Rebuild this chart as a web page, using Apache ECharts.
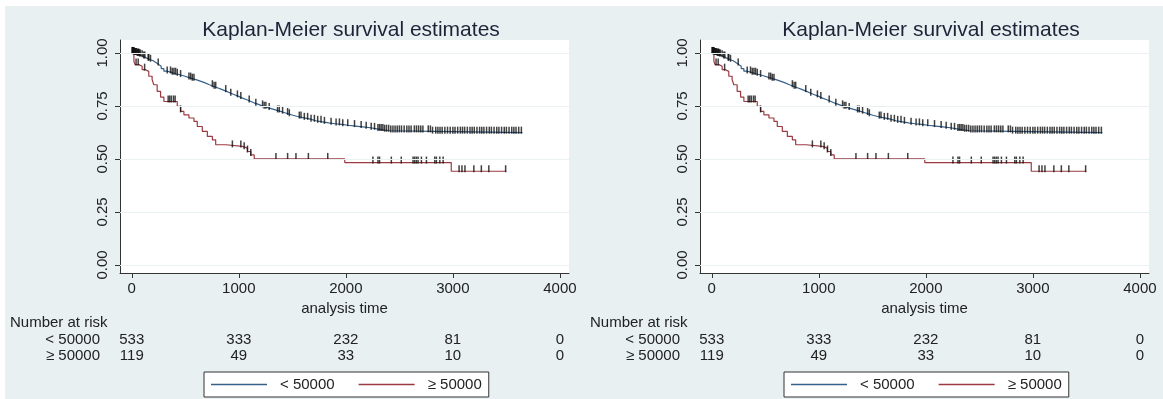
<!DOCTYPE html>
<html>
<head>
<meta charset="utf-8">
<script src="https://cdn.jsdelivr.net/npm/echarts@6/dist/echarts.min.js"></script>
<style>
    html, body { margin: 0; background: #fff; }
    #graph { position: absolute; left: 5px; top: 6px; width: 1158px; height: 393px; }
</style>
</head>
<body>
<div id="graph"></div>
<script>
"use strict"

// number at risk table
const riskTimes = [0, 1000, 2000, 3000, 4000];
const riskLow = [533, 333, 232, 81, 0];
const riskHigh = [119, 49, 33, 10, 0];
const yTicks = [0, 0.25, 0.5, 0.75, 1];

// KM steps [time, survival]
const kmLow = [
    [0, 1.0], [10, 0.998], [25, 0.995], [45, 0.992], [70, 0.988], [90, 0.984], [110, 0.978], [130, 0.973],
    [150, 0.968], [175, 0.963], [200, 0.955], [225, 0.946], [250, 0.937], [275, 0.926], [300, 0.914],
    [330, 0.908], [370, 0.902], [410, 0.897], [450, 0.891], [490, 0.885], [530, 0.879], [565, 0.874],
    [600, 0.867], [640, 0.860], [680, 0.851], [720, 0.843], [760, 0.836], [800, 0.828], [840, 0.820],
    [880, 0.811], [920, 0.803], [960, 0.795], [1000, 0.787], [1035, 0.779], [1075, 0.771], [1115, 0.763],
    [1150, 0.756], [1190, 0.748], [1230, 0.742], [1270, 0.736], [1310, 0.730], [1350, 0.724], [1390, 0.718],
    [1430, 0.712], [1470, 0.706], [1505, 0.700], [1550, 0.695], [1600, 0.689], [1660, 0.680], [1720, 0.675],
    [1780, 0.670], [1840, 0.666], [1900, 0.663], [1960, 0.659], [2020, 0.655], [2090, 0.651], [2160, 0.647],
    [2230, 0.642], [2290, 0.637], [2350, 0.633], [2410, 0.630], [2810, 0.624], [3650, 0.624]
];
const kmHigh = [
    [0, 1.0], [20, 0.96], [30, 0.945], [66, 0.937], [97, 0.921], [128, 0.913], [159, 0.89], [190, 0.874],
    [206, 0.85], [237, 0.819], [269, 0.792], [300, 0.771], [425, 0.748], [456, 0.724], [487, 0.708],
    [534, 0.693], [581, 0.677], [612, 0.653], [659, 0.63], [706, 0.606], [753, 0.59], [784, 0.567],
    [880, 0.559], [1034, 0.551], [1081, 0.535], [1112, 0.519], [1144, 0.5], [1990, 0.483], [2985, 0.442],
    [3500, 0.442]
];

// censoring times
const censLow = [
    3, 6, 9, 12, 15, 19, 22, 28, 34, 38, 44, 50, 56, 62, 66, 72, 81, 97, 112, 122, 153, 159, 175, 247,
    331, 362, 378, 394, 409, 425, 456, 534, 550, 565, 581, 753, 769, 784, 878, 925, 987, 1019, 1097, 1159,
    1222, 1237, 1253, 1284, 1362, 1378, 1409, 1456, 1472, 1565, 1581, 1612, 1643, 1675, 1706, 1737, 1768,
    1800, 1862, 1909, 1940, 1971, 2018, 2081, 2143, 2190, 2237, 2268, 2300, 2315, 2330, 2346, 2362, 2380,
    2400, 2420, 2440, 2460, 2480, 2500, 2520, 2545, 2570, 2590, 2610, 2640, 2660, 2680, 2700, 2720, 2770,
    2790, 2810, 2840, 2860, 2880, 2900, 2925, 2950, 2975, 3000, 3020, 3045, 3070, 3090, 3110, 3135, 3160,
    3180, 3200, 3225, 3250, 3270, 3290, 3315, 3340, 3360, 3385, 3410, 3430, 3455, 3480, 3500, 3525, 3550,
    3570, 3590, 3615, 3640
];
const censHigh = [
    40, 60, 120, 340, 355, 370, 390, 405, 456, 940, 1019, 1050, 1081, 1112, 1347, 1456, 1534, 1650, 1831,
    2253, 2300, 2315, 2425, 2518, 2628, 2643, 2659, 2675, 2706, 2753, 2831, 2846, 2878, 2909, 3058, 3085,
    3113, 3196, 3266, 3336, 3493
];

const FONT = "'Liberation Sans', Arial, sans-serif";
const BLUE = "#35608c", RED = "#9c3a41";

const survAt = (km, t) =>
{
    let v = km[0][1];
    for (const p of km)
        if (p[0] <= t) v = p[1];
    return v;
};

// panel layout (px inside the chart div)
const panels = [
    { left: 115, title: 341, rowL: 5, legend: 199 },
    { left: 695, title: 921, rowL: 585, legend: 779 }
];

const option = {
    backgroundColor: "#e8f0f2",
    animation: false,
    textStyle: { fontFamily: FONT },
    title: [], grid: [], xAxis: [], yAxis: [], series: [], legend: [], graphic: []
};

panels.forEach((p, i) =>
{
    option.title.push({
        text: "Kaplan-Meier survival estimates",
        left: p.title, top: 9, textAlign: "center",
        textStyle: { fontSize: 21, fontWeight: "normal", color: "#1c2538", fontFamily: FONT }
    });
    option.grid.push({ left: p.left, top: 34, width: 449, height: 233, show: true, backgroundColor: "#fff", borderWidth: 0 });
    option.xAxis.push({
        type: "value", gridIndex: i, min: -110, max: 4085,
        name: "analysis time", nameLocation: "middle", nameGap: 23,
        nameTextStyle: { fontSize: 15, color: "#222", fontFamily: FONT },
        axisLine: { onZero: false, lineStyle: { color: "#333", width: 1 } },
        axisTick: { show: true, length: 5, customValues: riskTimes, lineStyle: { color: "#333" } },
        axisLabel: { customValues: riskTimes, margin: 8, fontSize: 15, color: "#222", fontFamily: FONT,
            formatter: v => String(v) },
        splitLine: { show: false }
    });
    // second axis carries the at-risk numbers under each tick
    option.xAxis.push({
        type: "value", gridIndex: i, min: -110, max: 4085, position: "bottom", offset: 59,
        axisLine: { show: false, onZero: false }, axisTick: { show: false }, splitLine: { show: false },
        axisLabel: {
            customValues: riskTimes, margin: 0, fontSize: 15, lineHeight: 16, color: "#222", fontFamily: FONT,
            formatter: v => { const k = riskTimes.indexOf(v); return `${riskLow[k]}\n${riskHigh[k]}`; }
        }
    });
    option.yAxis.push({
        type: "value", gridIndex: i, min: -0.038, max: 1.061,
        axisLine: { show: true, onZero: false, lineStyle: { color: "#333", width: 1 } },
        axisTick: { show: true, length: 5, customValues: yTicks, lineStyle: { color: "#333" } },
        axisLabel: { customValues: yTicks, rotate: 90, margin: 10, fontSize: 15, color: "#222", fontFamily: FONT,
            formatter: v => v.toFixed(2) },
        splitLine: { show: false }
    });
    const xi = i * 2;
    option.series.push({
        name: "grid" + i, type: "line", xAxisIndex: xi, yAxisIndex: i, data: [], silent: true, z: 1,
        markLine: {
            silent: true, symbol: ["none", "none"], label: { show: false },
            lineStyle: { color: "#eaf1f3", width: 1, type: "solid" },
            data: yTicks.map(v => ({ yAxis: v }))
        }
    });
    option.series.push({
        name: "< 50000", type: "line", step: "end", xAxisIndex: xi, yAxisIndex: i, data: kmLow,
        symbol: "none", lineStyle: { color: BLUE, width: 1.2 }, itemStyle: { color: BLUE }, z: 3
    });
    option.series.push({
        name: "≥ 50000", type: "line", step: "end", xAxisIndex: xi, yAxisIndex: i, data: kmHigh,
        symbol: "none", lineStyle: { color: RED, width: 1.2 }, itemStyle: { color: RED }, z: 3
    });
    [[censLow, kmLow], [censHigh, kmHigh]].forEach(([cens, km], j) =>
    {
        option.series.push({
            name: "cens" + i + j, type: "scatter", xAxisIndex: xi, yAxisIndex: i, silent: true, z: 4,
            data: cens.map(t => [t, survAt(km, t)]),
            symbol: "rect", symbolSize: [1.5, 7], symbolOffset: [0, -2.5], itemStyle: { color: "#111" }
        });
    });
    option.legend.push({
        data: ["< 50000", "≥ 50000"], left: p.legend, top: 366, orient: "horizontal",
        icon: "rect", itemWidth: 56, itemHeight: 1.5, itemGap: 24, padding: [5, 7],
        backgroundColor: "#fff", borderColor: "#333", borderWidth: 1, borderRadius: 0,
        textStyle: { fontSize: 15, color: "#222", fontFamily: FONT, padding: [0, 0, 0, 8] }
    });
    option.graphic.push(
        { type: "text", left: p.rowL, top: 309, style: { text: "Number at risk", fill: "#222", font: "15px " + FONT } },
        { type: "text", right: 1158 - p.rowL - 90, top: 326, style: { text: "< 50000", fill: "#222", font: "15px " + FONT, textAlign: "right" } },
        { type: "text", right: 1158 - p.rowL - 90, top: 342, style: { text: "≥ 50000", fill: "#222", font: "15px " + FONT, textAlign: "right" } }
    );
});

const myChart = echarts.init(document.getElementById("graph"), null, { renderer: "canvas" });
myChart.setOption(option);
</script>
</body>
</html>
